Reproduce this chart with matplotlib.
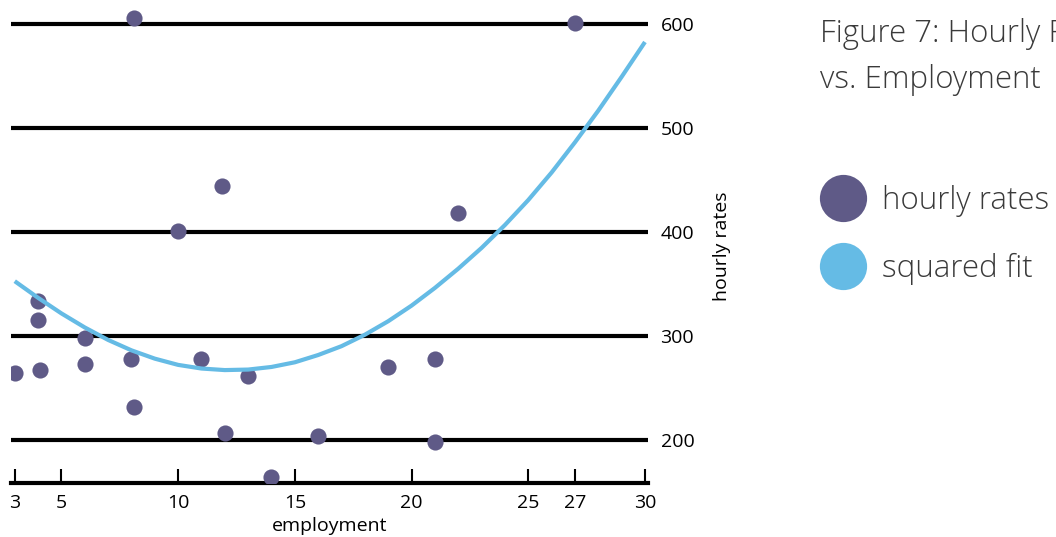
import matplotlib
matplotlib.use("Agg")
import matplotlib.pyplot as plt
from matplotlib.lines import Line2D

# ---- data ----
employment = [8.1, 11.9, 10, 27, 22, 4, 4, 6, 3, 4.1, 6, 8, 8.1, 11, 13, 12, 16, 14, 19, 21, 21]
hourly_rates = [606, 445, 401, 601, 419, 334, 316, 298, 265, 268, 273, 278, 232, 278, 262, 207, 204, 165, 270, 278, 198]

fit_x = list(range(3, 31))
fit_y = [353, 337, 322, 308.5, 296.5, 286.5, 278.5, 272.5, 269, 267.5, 268, 270.5, 275, 282,
         290.5, 301.5, 314.5, 329.5, 346.5, 365, 385, 407, 431, 457.5, 486.5, 517, 549.5, 583]

x_ticks = [3, 5, 10, 15, 20, 25, 27, 30]
y_ticks = [200, 300, 400, 500, 600]

title_text = "Figure 7: Hourly Rates\nvs. Employment"
series_labels = ["hourly rates", "squared fit"]
x_label = "employment"
y_label = "hourly rates"

dot_color = "#5F5A87"
fit_color = "#65BBE5"

W, H = 1056, 537
fig = plt.figure(figsize=(W / 100, H / 100), dpi=100)

ax_left, ax_right = 11, 648
ax_bottom_px = 482.7
ax = fig.add_axes([ax_left / W, (H - ax_bottom_px) / H, (ax_right - ax_left) / W, ax_bottom_px / H])

tick_font = "Open Sans"
tick_size = 14

ax.set_xlim(2.84, 30.13)
ax.set_ylim(159.2, 623.4)

ax.set_yticks(y_ticks)
ax.grid(axis="y", color="black", linewidth=3, zorder=0)
ax.set_axisbelow(True)

ax.scatter(employment, hourly_rates, s=135, color=dot_color, zorder=3, linewidths=0)
ax.plot(fit_x, fit_y, color=fit_color, linewidth=3, zorder=4, solid_capstyle="butt",
        solid_joinstyle="round")

for s in ["top", "left", "right"]:
    ax.spines[s].set_visible(False)
ax.spines["bottom"].set_linewidth(3)
ax.spines["bottom"].set_color("black")

ax.set_xticks(x_ticks)
ax.set_xticklabels([str(t) for t in x_ticks], fontfamily=tick_font, fontsize=tick_size)
ax.tick_params(axis="x", direction="in", length=10, width=1.5, color="black", pad=8)

ax.yaxis.tick_right()
ax.set_yticklabels([str(t) for t in y_ticks], fontfamily=tick_font, fontsize=tick_size)
ax.tick_params(axis="y", length=0, pad=9)

ax.set_xlabel(x_label, fontfamily=tick_font, fontsize=tick_size, labelpad=4)
ax.yaxis.set_label_position("right")
ax.set_ylabel(y_label, fontfamily=tick_font, fontsize=tick_size, rotation=90, va="center", ha="center")
ax.yaxis.set_label_coords((721.7 - ax_left) / (ax_right - ax_left), 0.49)

# title
fig.text(820 / W, 1 - 18 / H, title_text, ha="left", va="top", fontfamily="Open Sans",
         fontweight="light", fontsize=22.5, color="#3a3a3a", linespacing=1.6)

# legend
handles = [
    Line2D([], [], linestyle="none", marker="o", markersize=34, color=dot_color, markeredgewidth=0),
    Line2D([], [], linestyle="none", marker="o", markersize=34, color=fit_color, markeredgewidth=0),
]
fig.legend(handles, series_labels, loc="upper left", bbox_to_anchor=(828 / W, 1 - 185 / H),
           frameon=False, prop={"family": "Open Sans", "weight": "light", "size": 22.5},
           labelcolor="#3a3a3a", handlelength=0.93, handletextpad=0.8, labelspacing=1.15,
           borderpad=0, borderaxespad=0)

fig.savefig("out.png", dpi=100)
